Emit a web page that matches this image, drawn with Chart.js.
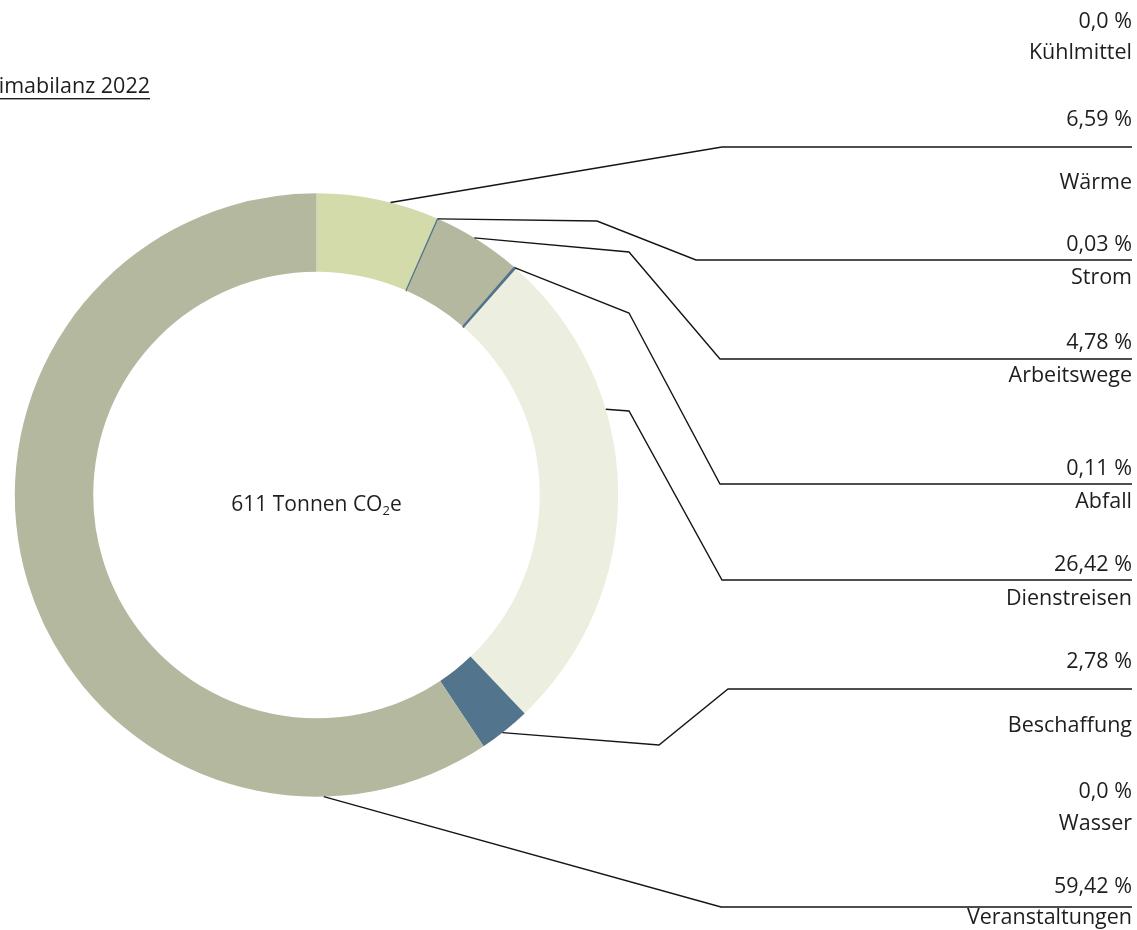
<!DOCTYPE html>
<html>
<head>
<meta charset="utf-8">
<script src="https://cdn.jsdelivr.net/npm/chart.js@4"></script>
<style>
  html, body { margin: 0; padding: 0; background: #fff; }
  #wrap { width: 1137px; height: 930px; position: relative; }
</style>
</head>
<body>
<div id="wrap"><canvas id="chart_canvas"></canvas></div>
<script>
// data
const categories = ['Kühlmittel', 'Wärme', 'Strom', 'Arbeitswege', 'Abfall', 'Dienstreisen', 'Beschaffung', 'Wasser', 'Veranstaltungen'];
const shares = [0.0, 6.59, 0.03, 4.78, 0.11, 26.42, 2.78, 0.0, 59.42];
const centerLabel = ['611 Tonnen CO', '2', 'e'];
const titleText = 'Klimabilanz 2022';

// look
const FONT = '"Open Sans", sans-serif';
const TEXT_COLOR = '#1e1e1e';
const BLUE = '#52748c';
const colors = ['#d4dbab', '#d4dbab', BLUE, '#b4b89e', BLUE, '#eceedf', BLUE, '#eceedf', '#b4b89e'];
const borderWidths = [0, 0, 1.6, 0, 1.6, 0, 0, 0, 0];

// label layout on the right: y of the rule line (null = no rule), y of value and name text
const RIGHT_X = 1132;
const lineY = [null, 147, 260, 359, 484, 580, 689, null, 907];
const valueY = [22, 120, 245, 343, 469, 565, 662, 792, 887];
const nameY = [53, 183, 278, 376, 502, 599, 726, 824, 918];
const lineStartX = [null, 722, 696, 720, 720, 722, 728, null, 721];
const elbows = [null, null, [597, 221], [629, 252], [629, 313], [629, 411], [659, 745], null, null];
const anchorFrac = [0.5, 0.6, 0.5, 0.45, 0.5, 0.338, 0.56, 0.5, 0.151];

const CHART_CANVAS = document.getElementById('chart_canvas');

const fmt = v => (v === 0 ? '0,0' : v.toFixed(2).replace('.', ',')) + ' %';

const labelsPlugin = {
    id: 'labelsPlugin',
    afterDraw(chart) {
        const ctx = chart.ctx;
        const meta = chart.getDatasetMeta(0);
        ctx.save();

        // title (partly cut off at the left edge)
        ctx.font = '21.5px ' + FONT;
        ctx.fillStyle = TEXT_COLOR;
        ctx.textBaseline = 'middle';
        ctx.textAlign = 'right';
        ctx.fillText(titleText, 150, 87);
        const tw = ctx.measureText(titleText).width;
        ctx.fillRect(150 - tw, 98, tw, 1.4);

        // leader lines
        ctx.strokeStyle = '#151515';
        ctx.lineWidth = 1.4;
        categories.forEach((c, i) => {
            if (lineY[i] === null) return;
            const arc = meta.data[i];
            const p = arc.getProps(['x', 'y', 'startAngle', 'endAngle', 'outerRadius'], true);
            const a = p.startAngle + anchorFrac[i] * (p.endAngle - p.startAngle);
            ctx.beginPath();
            ctx.moveTo(p.x + Math.cos(a) * p.outerRadius, p.y + Math.sin(a) * p.outerRadius);
            if (elbows[i]) ctx.lineTo(elbows[i][0], elbows[i][1]);
            ctx.lineTo(lineStartX[i], lineY[i]);
            ctx.lineTo(RIGHT_X, lineY[i]);
            ctx.stroke();
        });

        // value and name labels
        ctx.font = '21.5px ' + FONT;
        ctx.textAlign = 'right';
        categories.forEach((c, i) => {
            ctx.fillText(fmt(shares[i]), RIGHT_X, valueY[i]);
            ctx.fillText(c, RIGHT_X, nameY[i]);
        });

        // center text with subscript
        const cx = meta.data[0].x, cy = meta.data[0].y;
        ctx.textAlign = 'left';
        ctx.font = '21px ' + FONT;
        const w1 = ctx.measureText(centerLabel[0]).width;
        ctx.font = '13px ' + FONT;
        const w2 = ctx.measureText(centerLabel[1]).width;
        ctx.font = '21px ' + FONT;
        const w3 = ctx.measureText(centerLabel[2]).width;
        let x = cx - (w1 + w2 + w3) / 2;
        const ty = cy + 10;
        ctx.fillText(centerLabel[0], x, ty);
        x += w1;
        ctx.font = '13px ' + FONT;
        ctx.fillText(centerLabel[1], x, ty + 6);
        x += w2;
        ctx.font = '21px ' + FONT;
        ctx.fillText(centerLabel[2], x, ty);
        ctx.restore();
    }
};

const data = {
    labels: categories,
    datasets: [{
        data: shares,
        backgroundColor: colors,
        borderColor: BLUE,
        borderWidth: borderWidths,
    }]
};

const config = {
    type: 'doughnut',
    data: data,
    options: {
        responsive: true,
        maintainAspectRatio: false,
        animation: false,
        cutout: '74%',
        layout: {
            padding: { left: 14, top: 191, right: 518, bottom: 131 }
        },
        plugins: {
            legend: { display: false },
            tooltip: { enabled: false },
            title: { display: false }
        }
    },
    plugins: [labelsPlugin]
};

const myChart = new Chart(CHART_CANVAS, config);
</script>
</body>
</html>
